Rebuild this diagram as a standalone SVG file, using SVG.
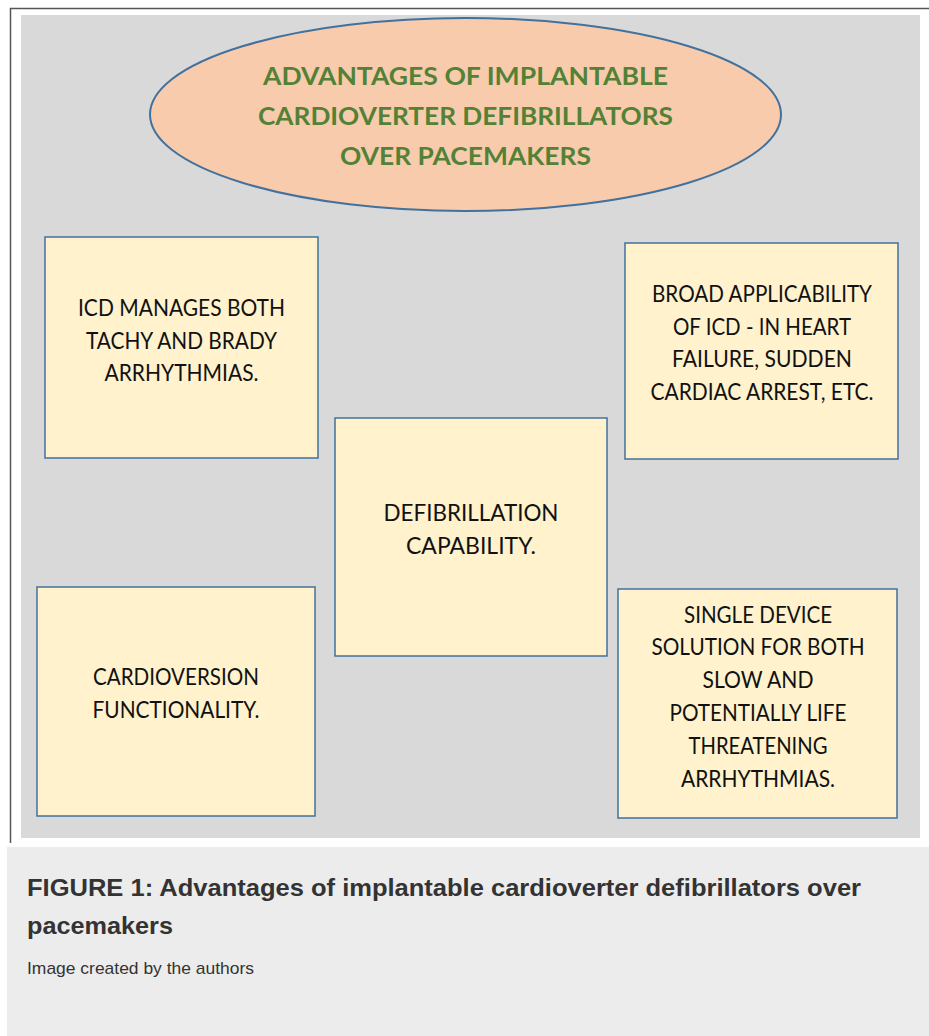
<svg xmlns="http://www.w3.org/2000/svg" width="929" height="1036" viewBox="0 0 929 1036">
<style>
.box{fill:#fff2cc;stroke:#41719c;stroke-width:1.5}
.bt{font-family:Lato,"Open Sans",sans-serif;font-size:23px;fill:#111;text-anchor:middle}
.tt{font-family:Lato,"Open Sans",sans-serif;font-size:25px;font-weight:bold;fill:#538135;text-anchor:middle}
.cap{font-family:"Liberation Sans",Arial,sans-serif;fill:#333}
</style>
<rect x="0" y="0" width="929" height="1036" fill="#ffffff"/>
<path d="M10.5 843 V8.5 H929" fill="none" stroke="#555" stroke-width="1.5"/>
<rect x="21" y="15" width="899" height="823" fill="#d9d9d9"/>
<rect x="7" y="847" width="922" height="189" fill="#ececec"/>
<g id="title">
<ellipse cx="465.5" cy="114.5" rx="315.5" ry="96.5" fill="#f8cbad" stroke="#41719c" stroke-width="2"/>
<text class="tt" x="465.5" y="85" textLength="405" lengthAdjust="spacingAndGlyphs">ADVANTAGES OF IMPLANTABLE</text>
<text class="tt" x="465.5" y="125" textLength="415" lengthAdjust="spacingAndGlyphs">CARDIOVERTER DEFIBRILLATORS</text>
<text class="tt" x="465.5" y="165" textLength="251" lengthAdjust="spacingAndGlyphs">OVER PACEMAKERS</text>
</g>
<g id="connectors"></g>
<g id="node-icd">
<rect class="box" x="45" y="237" width="273" height="221"/>
<text class="bt" x="181.5" y="316" textLength="207" lengthAdjust="spacingAndGlyphs">ICD MANAGES BOTH</text>
<text class="bt" x="181.5" y="348.5" textLength="191" lengthAdjust="spacingAndGlyphs">TACHY AND BRADY</text>
<text class="bt" x="181.5" y="381" textLength="154" lengthAdjust="spacingAndGlyphs">ARRHYTHMIAS.</text>
</g>
<g id="node-broad">
<rect class="box" x="625" y="243" width="273" height="216"/>
<text class="bt" x="762" y="302" textLength="220" lengthAdjust="spacingAndGlyphs">BROAD APPLICABILITY</text>
<text class="bt" x="762" y="334.5" textLength="178" lengthAdjust="spacingAndGlyphs">OF ICD - IN HEART</text>
<text class="bt" x="762" y="367" textLength="180" lengthAdjust="spacingAndGlyphs">FAILURE, SUDDEN</text>
<text class="bt" x="762" y="399.5" textLength="223" lengthAdjust="spacingAndGlyphs">CARDIAC ARREST, ETC.</text>
</g>
<g id="node-defib">
<rect class="box" x="335" y="418" width="272" height="238"/>
<text class="bt" x="471" y="521" textLength="175" lengthAdjust="spacingAndGlyphs">DEFIBRILLATION</text>
<text class="bt" x="471" y="554" textLength="130" lengthAdjust="spacingAndGlyphs">CAPABILITY.</text>
</g>
<g id="node-cardio">
<rect class="box" x="37" y="587" width="278" height="229"/>
<text class="bt" x="176" y="685" textLength="166" lengthAdjust="spacingAndGlyphs">CARDIOVERSION</text>
<text class="bt" x="176" y="717.5" textLength="167" lengthAdjust="spacingAndGlyphs">FUNCTIONALITY.</text>
</g>
<g id="node-single">
<rect class="box" x="618" y="589" width="279" height="229"/>
<text class="bt" x="758" y="622.5" textLength="148" lengthAdjust="spacingAndGlyphs">SINGLE DEVICE</text>
<text class="bt" x="758" y="655.3" textLength="213" lengthAdjust="spacingAndGlyphs">SOLUTION FOR BOTH</text>
<text class="bt" x="758" y="688.1" textLength="111" lengthAdjust="spacingAndGlyphs">SLOW AND</text>
<text class="bt" x="758" y="720.9" textLength="177" lengthAdjust="spacingAndGlyphs">POTENTIALLY LIFE</text>
<text class="bt" x="758" y="753.7" textLength="139" lengthAdjust="spacingAndGlyphs">THREATENING</text>
<text class="bt" x="758" y="786.5" textLength="154" lengthAdjust="spacingAndGlyphs">ARRHYTHMIAS.</text>
</g>
<g id="caption">
<text class="cap" x="27" y="896" font-size="24" font-weight="bold" textLength="834" lengthAdjust="spacingAndGlyphs">FIGURE 1: Advantages of implantable cardioverter defibrillators over</text>
<text class="cap" x="27" y="934" font-size="24" font-weight="bold" textLength="146" lengthAdjust="spacingAndGlyphs">pacemakers</text>
<text class="cap" x="27" y="974" font-size="17" textLength="227" lengthAdjust="spacingAndGlyphs">Image created by the authors</text>
</g>
</svg>
